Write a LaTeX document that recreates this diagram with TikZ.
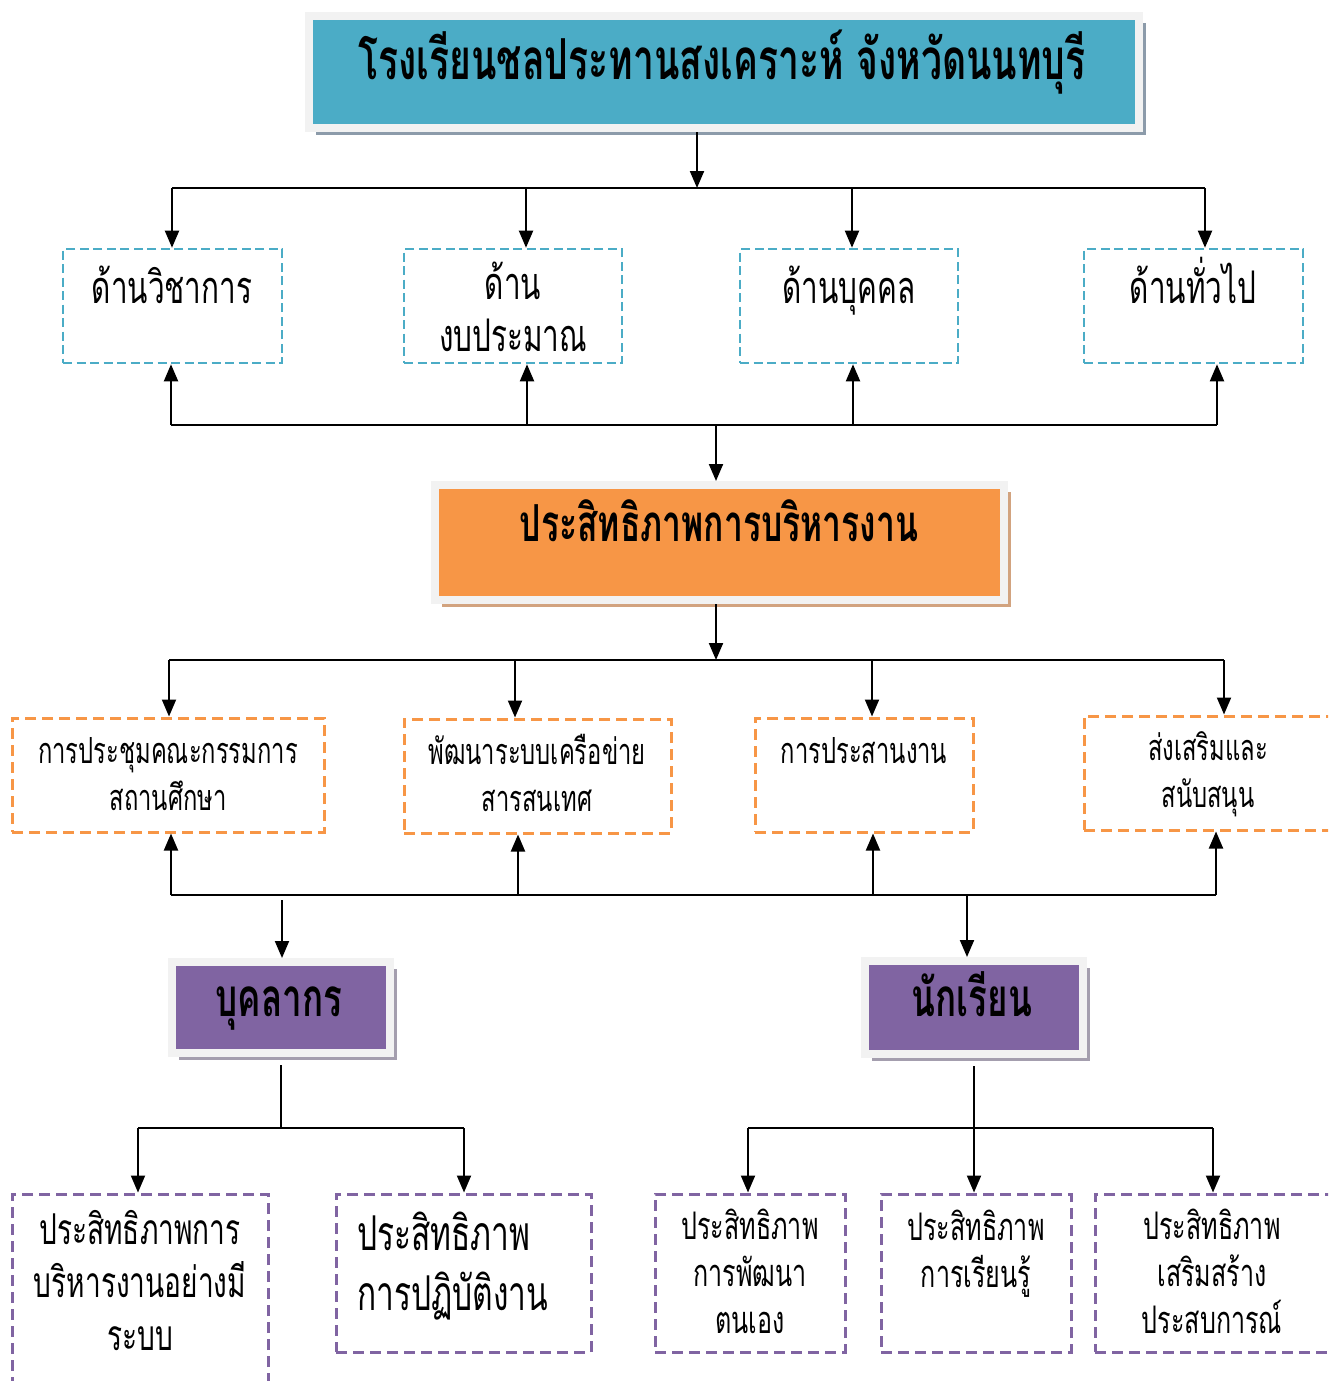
\documentclass[tikz,border=0pt]{standalone}
\usepackage{fontspec}
\newfontfamily\thaifont[Script=Thai,FakeStretch=0.66]{Loma}
\usetikzlibrary{arrows.meta,positioning,shadows}
\definecolor{schoolblue}{HTML}{4BACC6}
\definecolor{workorange}{HTML}{F79646}
\definecolor{staffpurple}{HTML}{8064A2}
\definecolor{framegray}{HTML}{F2F2F2}
\definecolor{blueshade}{HTML}{8C9BAA}
\definecolor{orangeshade}{HTML}{D2A37F}
\definecolor{purpleshade}{HTML}{A49EAE}
\tikzset{
  arr/.style={line width=2pt,-{Triangle[length=17pt,width=14pt]}},
  bus/.style={line width=2pt},
  headbox/.style={draw=framegray,line width=8pt,inner sep=0pt},
  dashbox/.style={draw=#1,line width=3pt,dash pattern=on 11pt off 6pt,inner sep=0pt},
  bluebox/.style={dashbox=schoolblue,line width=2.6pt,dash pattern=on 9pt off 4.5pt},
  boxtxt/.style 2 args={anchor=base,align=center,inner sep=0pt,
    font=\thaifont\fontsize{#1}{#2}\selectfont},
  bluetxt/.style={boxtxt={45}{52}},
  orangetxt/.style={boxtxt={36}{47}},
  purpletxt/.style={boxtxt={38}{47}},
  headtxt/.style={anchor=base,font=\thaifont\bfseries\fontsize{#1}{#1}\selectfont}
}
\begin{document}
\begin{tikzpicture}[x=1pt,y=-1pt]
\useasboundingbox (0,0) rectangle (1328,1381);
\fill[white] (0,0) rectangle (1328,1381);
\clip (0,0) rectangle (1328,1381);

% head boxes
\node[headbox,fill=schoolblue,minimum width=830pt,minimum height=112pt,
  drop shadow={opacity=1,fill=blueshade,shadow xshift=7pt,shadow yshift=-7pt}] (school) at (724,72) {};
\node[headtxt=56.5] (schoolt) at (722,79) {โรงเรียนชลประทานสงเคราะห์ จังหวัดนนทบุรี};
\node[headbox,fill=workorange,minimum width=569pt,minimum height=115pt,
  drop shadow={opacity=1,fill=orangeshade,shadow xshift=7pt,shadow yshift=-7pt}] (eff) at (719.5,542.5) {};
\node[headtxt=51] (efft) at (719,541) {ประสิทธิภาพการบริหารงาน};
\node[headbox,fill=staffpurple,minimum width=218pt,minimum height=91pt,
  drop shadow={opacity=1,fill=purpleshade,shadow xshift=7pt,shadow yshift=-7pt}] (staff) at (281,1007.5) {};
\node[headtxt=53] (stafft) at (279,1016) {บุคลากร};
\node[headbox,fill=staffpurple,minimum width=218pt,minimum height=93pt,
  drop shadow={opacity=1,fill=purpleshade,shadow xshift=7pt,shadow yshift=-7pt}] (student) at (974,1007.5) {};
\node[headtxt=53] (studentt) at (972,1016) {นักเรียน};

% blue boxes
\node[bluebox,minimum width=219pt,minimum height=114pt] (acad) at (172.5,306) {};
\node[bluebox,minimum width=218pt,minimum height=114pt] (budget) at (513,306) {};
\node[bluebox,minimum width=218pt,minimum height=114pt] (person) at (849,306) {};
\node[bluebox,minimum width=219pt,minimum height=114pt] (general) at (1193.5,306) {};
\node[bluetxt] (acadt) at (172,303) {ด้านวิชาการ};
\node[bluetxt] (budgett) at (513,351) {ด้าน\\งบประมาณ};
\node[bluetxt] (persont) at (849,303) {ด้านบุคคล};
\node[bluetxt] (generalt) at (1193,303) {ด้านทั่วไป};

% orange boxes
\node[dashbox=workorange,minimum width=312pt,minimum height=114pt] (meet) at (168,775) {};
\node[dashbox=workorange,minimum width=267pt,minimum height=114pt] (info) at (537.5,776) {};
\node[dashbox=workorange,minimum width=218pt,minimum height=114pt] (coord) at (864,775) {};
\node[dashbox=workorange,minimum width=248pt,minimum height=114pt] (support) at (1208,773) {};
\node[orangetxt] (meett) at (168,810) {การประชุมคณะกรรมการ\\สถานศึกษา};
\node[orangetxt] (infot) at (537,811) {พัฒนาระบบเครือข่าย\\สารสนเทศ};
\node[orangetxt] (coordt) at (864,763) {การประสานงาน};
\node[orangetxt] (supportt) at (1208,807) {ส่งเสริมและ\\สนับสนุน};

% purple boxes
\node[dashbox=staffpurple,minimum width=256pt,minimum height=206pt] (sys) at (140,1297) {};
\node[dashbox=staffpurple,minimum width=255pt,minimum height=158pt] (work) at (463.5,1273) {};
\node[dashbox=staffpurple,minimum width=190pt,minimum height=158pt] (self) at (750,1273) {};
\node[dashbox=staffpurple,minimum width=190pt,minimum height=158pt] (learn) at (976,1273) {};
\node[dashbox=staffpurple,minimum width=237pt,minimum height=158pt] (exper) at (1213.5,1273) {};
\node[boxtxt={42.5}{53}] (syst) at (140,1350) {ประสิทธิภาพการ\\บริหารงานอย่างมี\\ระบบ};
\node[boxtxt={48}{60},anchor=base west,align=left] (workt) at (357,1310) {ประสิทธิภาพ\\การปฏิบัติงาน};
\node[purpletxt] (selft) at (750,1333) {ประสิทธิภาพ\\การพัฒนา\\ตนเอง};
\node[purpletxt] (learnt) at (976,1287) {ประสิทธิภาพ\\การเรียนรู้};
\node[purpletxt] (expert) at (1212,1333) {ประสิทธิภาพ\\เสริมสร้าง\\ประสบการณ์};

% school to blue boxes
\coordinate (u0) at (697,188);
\coordinate (u1) at (172,188);
\coordinate (u2) at (526,188);
\coordinate (u3) at (852,188);
\coordinate (u4) at (1205,188);
\draw[arr] (school.south -| u0) -- (u0);
\draw[bus] (u1) -- (u4);
\draw[arr] (u1) -- (u1 |- acad.north);
\draw[arr] (u2) -- (u2 |- budget.north);
\draw[arr] (u3) -- (u3 |- person.north);
\draw[arr] (u4) -- (u4 |- general.north);

% blue boxes to efficiency
\coordinate (l0) at (716,425);
\coordinate (l1) at (171,425);
\coordinate (l2) at (527,425);
\coordinate (l3) at (853,425);
\coordinate (l4) at (1217,425);
\draw[bus] (l1) -- (l4);
\draw[arr] (l1) -- (l1 |- acad.south);
\draw[arr] (l2) -- (l2 |- budget.south);
\draw[arr] (l3) -- (l3 |- person.south);
\draw[arr] (l4) -- (l4 |- general.south);
\draw[arr] (l0) -- (l0 |- eff.north);

% efficiency to orange boxes
\coordinate (m0) at (716,660);
\coordinate (m1) at (169,660);
\coordinate (m2) at (515,660);
\coordinate (m3) at (872,660);
\coordinate (m4) at (1224,660);
\draw[arr] (eff.south -| m0) -- (m0);
\draw[bus] (m1) -- (m4);
\draw[arr] (m1) -- (m1 |- meet.north);
\draw[arr] (m2) -- (m2 |- info.north);
\draw[arr] (m3) -- (m3 |- coord.north);
\draw[arr] (m4) -- (m4 |- support.north);

% orange boxes to staff and students
\coordinate (n1) at (171,895);
\coordinate (n2) at (518,895);
\coordinate (n3) at (873,895);
\coordinate (n4) at (1216,895);
\coordinate (n5) at (282,900);
\coordinate (n6) at (967,895);
\draw[bus] (n1) -- (n4);
\draw[arr] (n1) -- (n1 |- meet.south);
\draw[arr] (n2) -- (n2 |- info.south);
\draw[arr] (n3) -- (n3 |- coord.south);
\draw[arr] (n4) -- (n4 |- support.south);
\draw[arr] (n5) -- (n5 |- staff.north);
\draw[arr] (n6) -- (n6 |- student.north);

% staff branch
\coordinate (s0) at (281,1128);
\coordinate (s1) at (138,1128);
\coordinate (s2) at (464,1128);
\draw[bus,shorten <=8pt] (staff.south -| s0) -- (s0);
\draw[bus] (s1) -- (s2);
\draw[arr] (s1) -- (s1 |- sys.north);
\draw[arr] (s2) -- (s2 |- work.north);

% student branch
\coordinate (t0) at (974,1128);
\coordinate (t1) at (748,1128);
\coordinate (t2) at (1213,1128);
\draw[arr,shorten <=8pt] (student.south -| t0) -- (t0 |- learn.north);
\draw[bus] (t1) -- (t2);
\draw[arr] (t1) -- (t1 |- self.north);
\draw[arr] (t2) -- (t2 |- exper.north);
\end{tikzpicture}
\end{document}
